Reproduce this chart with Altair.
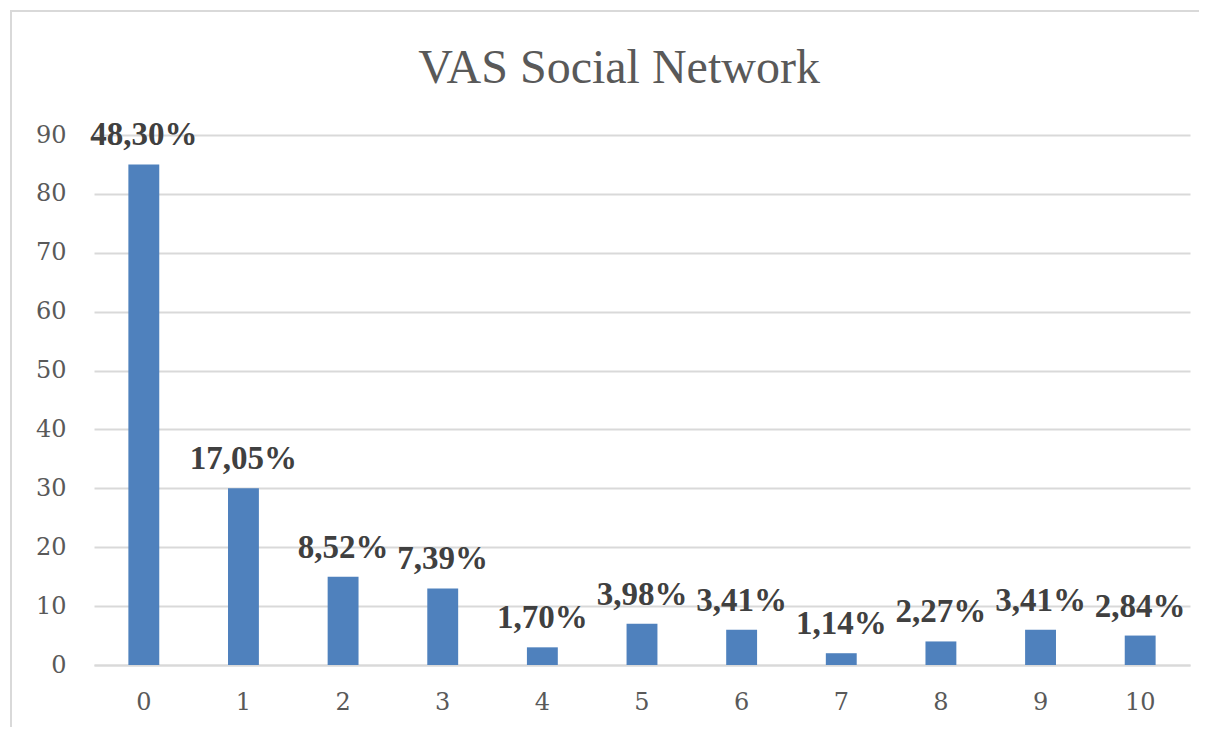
import altair as alt
import pandas as pd

categories = ["0", "1", "2", "3", "4", "5", "6", "7", "8", "9", "10"]
counts = [85, 30, 15, 13, 3, 7, 6, 2, 4, 6, 5]
labels = ["48,30%", "17,05%", "8,52%", "7,39%", "1,70%", "3,98%", "3,41%",
          "1,14%", "2,27%", "3,41%", "2,84%"]

df = pd.DataFrame({"cat": categories, "count": counts, "label": labels})

FONT = "Liberation Serif"
AXFONT = "DejaVu Serif"

x_enc = alt.X("cat:N", sort=categories, title=None,
              scale=alt.Scale(paddingInner=0.69, paddingOuter=0.345),
              axis=alt.Axis(labelAngle=0, ticks=False, domain=True,
                            domainColor="#d9d9d9", domainWidth=2,
                            labelFont=AXFONT, labelFontSize=24,
                            labelColor="#595959", labelPadding=25, grid=False))
y_enc = alt.Y("count:Q", title=None,
              scale=alt.Scale(domain=[0, 90], nice=False),
              axis=alt.Axis(values=list(range(0, 91, 10)), ticks=False,
                            domain=False, gridColor="#d9d9d9", gridWidth=2,
                            labelFont=AXFONT, labelFontSize=24,
                            labelColor="#595959", labelPadding=28))

base = alt.Chart(df)
bars = base.mark_bar(color="#4f81bd").encode(x=x_enc, y=y_enc)
text = base.mark_text(font=FONT, fontSize=33, fontWeight="bold",
                      color="#404040", baseline="alphabetic", dy=-19).encode(
    x=alt.X("cat:N", sort=categories), y="count:Q", text="label:N")

frame = alt.Chart(alt.Data(values=[{"a": 1}])).mark_rect(
    filled=False, stroke="#d9d9d9", strokeWidth=2).encode(
    x=alt.value(-83), x2=alt.value(1106), y=alt.value(-124), y2=alt.value(700))

chart = alt.layer(frame, bars, text).properties(
    width=1096, height=530,
    title=alt.TitleParams("VAS Social Network", font=FONT, fontSize=48,
                          fontWeight="normal", color="#595959",
                          anchor="middle", dx=-23, baseline="alphabetic",
                          offset=-121),
    autosize=alt.AutoSizeParams(type="none"),
    padding={"left": 86, "top": 127, "right": 9, "bottom": 62},
).configure_view(stroke=None)

chart.save("out.html", embed_options={"renderer": "svg", "actions": False})
